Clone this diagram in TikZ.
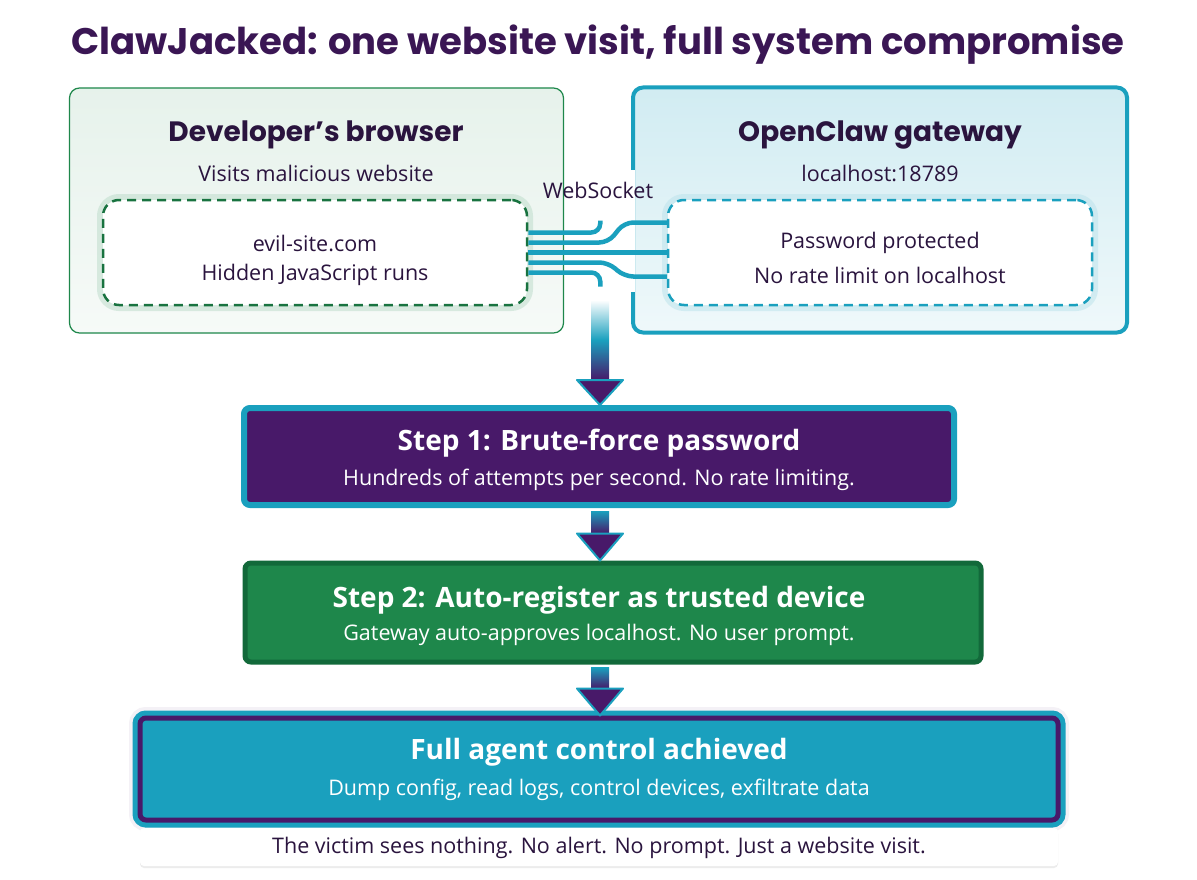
\documentclass[tikz,border=0pt]{standalone}
\usepackage{fontspec}
\setmainfont{Open Sans}
\newfontfamily\headfont{Poppins}
\usepackage{tikz}
\usetikzlibrary{calc,positioning,shadows}
\definecolor{titlepurple}{RGB}{58,22,84}
\definecolor{textpurple}{RGB}{42,20,62}
\definecolor{deeppurple}{RGB}{72,25,105}
\definecolor{clawteal}{RGB}{26,160,190}
\definecolor{clawgreen}{RGB}{30,135,75}
\definecolor{darkgreen}{RGB}{18,105,58}

\begin{document}
\begin{tikzpicture}[x=1pt, y=-1pt,
  hostbox/.style={rounded corners=10, minimum width=494, minimum height=245},
  jsbox/.style={draw, dash pattern=on 9pt off 6pt, line width=2.5, rounded corners=16, fill=white, minimum width=424, minimum height=105},
  headtext/.style={font=\headfont\bfseries\fontsize{28}{33}\selectfont, text=textpurple},
  bodytext/.style={font=\fontsize{21.5}{26}\selectfont, text=textpurple},
  stepbox/.style={rounded corners=6, minimum height=97},
  steptitle/.style={font=\bfseries\fontsize{28}{33}\selectfont, text=white},
  stepsub/.style={font=\fontsize{21.5}{26}\selectfont, text=white},
  cable/.style={draw=clawteal, line width=4.5, rounded corners=9},
  shaft/.style={top color=clawteal, bottom color=deeppurple},
  tip/.style={fill=deeppurple, draw=clawteal, line width=2, line join=round}
]
\useasboundingbox (0,0) rectangle (1197,880);
\fill[white] (0,0) rectangle (1197,880);

\node[font=\headfont\bfseries\fontsize{37}{44}\selectfont, text=titlepurple] (title) at (598,45) {ClawJacked: one website visit, full system compromise};

% the two hosts
\node[hostbox, draw=clawgreen, line width=1.2, top color=clawgreen!11!white, bottom color=clawgreen!4!white] (browser) at (316.5,210.5) {};
\node[hostbox, draw=clawteal, line width=4, top color=clawteal!20!white, bottom color=clawteal!7!white] (gateway) at (880,210) {};
\fill[white] ($(gateway.west)+(-4,-40)$) rectangle ($(gateway.west)+(4,82)$);

\node[headtext] (devT) at (316,135) {Developer’s browser};
\node[bodytext] (devS) at (316,173) {Visits malicious website};
\node[jsbox, draw=clawgreen!85!black, preaction={draw=clawgreen!30, solid, line width=12, opacity=.5}] (page) at (315,252.5) {};
\node[bodytext] (pageA) at (315,243) {evil-site.com};
\node[bodytext] (pageB) at (315,275) {Hidden JavaScript runs};

\node[headtext] (gateT) at (880,135) {OpenClaw gateway};
\node[bodytext] (gateS) at (880,173) {localhost:18789};
\node[jsbox, draw=clawteal, preaction={draw=clawteal!30, solid, line width=12, opacity=.5}] (pw) at (880,252.5) {};
\node[bodytext] (pwA) at (880,243) {Password protected};
\node[bodytext] (pwB) at (880,275) {No rate limit on localhost};

\node[bodytext] (ws) at (598,190) {WebSocket};

% websocket cables
\draw[cable] ($(page.east)+(0,-20)$) -- ++(72,0) -- ++(0,-12);
\draw[cable] ($(page.east)+(0,-10)$) -- ++(80,0) -- ++(16,-20) -- ($(pw.west)+(0,-30)$);
\draw[cable] (page.east) -- (pw.west);
\draw[cable] ($(page.east)+(0,10)$) -- ++(80,0) -- ++(16,14) -- ($(pw.west)+(0,24)$);
\draw[cable] ($(page.east)+(0,20)$) -- ++(72,0) -- ++(0,14);

% steps
\node[stepbox, minimum width=710, fill=deeppurple, draw=clawteal, line width=6] (step1) at (599,456.5) {};
\node[steptitle] (step1T) at (599,443) {Step 1: Brute-force password};
\node[stepsub] (step1S) at (599,480) {Hundreds of attempts per second. No rate limiting.};

\node[stepbox, minimum width=736, minimum height=99, fill=clawgreen, draw=darkgreen, line width=5] (step2) at (613,612.5) {};
\node[steptitle] (step2T) at (599,600) {Step 2: Auto-register as trusted device};
\node[stepsub] (step2S) at (599,635) {Gateway auto-approves localhost. No user prompt.};

\node[stepbox, minimum width=918, minimum height=102, fill=clawteal, draw=deeppurple, line width=5,
  preaction={draw=deeppurple!40, line width=22, opacity=.15}, preaction={draw=clawteal, line width=15}] (step3) at (599,769) {};
\node[steptitle] (step3T) at (599,752) {Full agent control achieved};
\node[stepsub] (step3S) at (599,790) {Dump config, read logs, control devices, exfiltrate data};

\node[rounded corners=4, minimum width=918, minimum height=38, fill=white, drop shadow={opacity=.15, shadow xshift=0pt, shadow yshift=-2pt}] (note) at (599,847) {};
\node[bodytext] (noteT) at (599,848) {The victim sees nothing. No alert. No prompt. Just a website visit.};

% arrows
\coordinate (ax) at (600,0);
\coordinate (a1) at (600,300);
\shade[top color=white, bottom color=deeppurple, middle color=clawteal] ($(a1)+(-9,0)$) rectangle ($(ax |- step1.north)+(9,-25)$);
\filldraw[tip] ($(ax |- step1.north)+(-23,-25)$) -- ($(ax |- step1.north)+(23,-25)$) -- (ax |- step1.north) -- cycle;

\shade[shaft] ($(ax |- step1.south)+(-9,3)$) rectangle ($(ax |- step2.north)+(9,-27)$);
\filldraw[tip] ($(ax |- step2.north)+(-23,-27)$) -- ($(ax |- step2.north)+(23,-27)$) -- (ax |- step2.north) -- cycle;

\shade[shaft] ($(ax |- step2.south)+(-9,3)$) rectangle ($(ax |- step3.north)+(9,-27)$);
\filldraw[tip] ($(ax |- step3.north)+(-23,-27)$) -- ($(ax |- step3.north)+(23,-27)$) -- (ax |- step3.north) -- cycle;
\end{tikzpicture}
\end{document}
